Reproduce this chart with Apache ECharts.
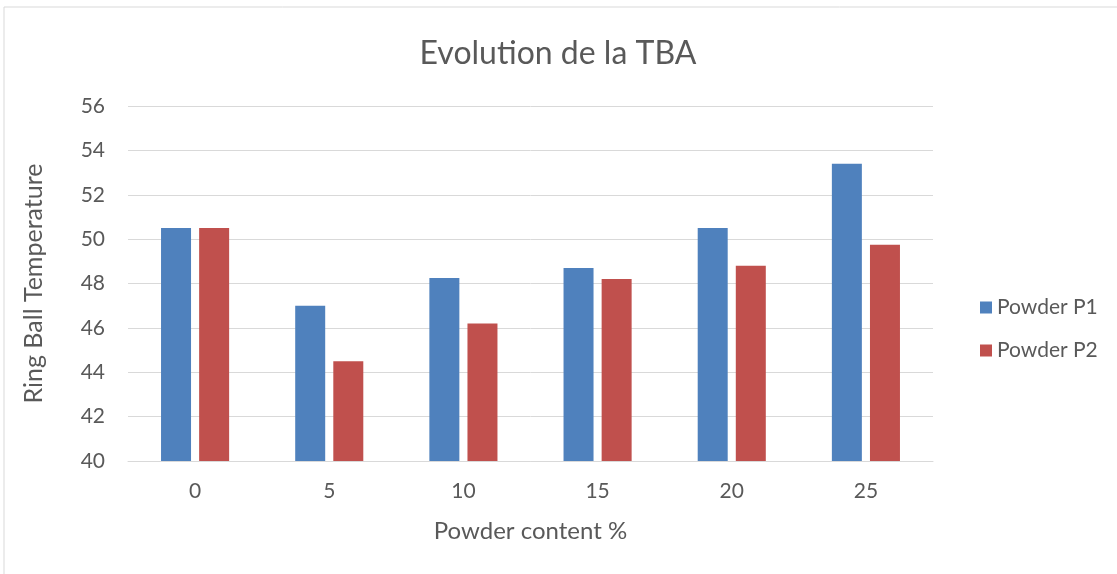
<!DOCTYPE html>
<html>
<head>
<meta charset="utf-8">
<script src="https://cdn.jsdelivr.net/npm/echarts@6/dist/echarts.min.js"></script>
<style>
  html, body { margin: 0; padding: 0; background: #fff; }
  #chart { width: 1117px; height: 574px; }
</style>
</head>
<body>
<div id="chart"></div>
<script>
var categories = ['0', '5', '10', '15', '20', '25'];
var powderP1 = [50.5, 47.0, 48.25, 48.7, 50.5, 53.4];
var powderP2 = [50.5, 44.5, 46.2, 48.2, 48.8, 49.75];
var yTicks = { min: 40, max: 56, interval: 2 };

var chart = echarts.init(document.getElementById('chart'));
var textColor = '#595959';
var fontFamily = 'Lato, "Open Sans", sans-serif';

chart.setOption({
  animation: false,
  textStyle: { fontFamily: fontFamily },
  graphic: [{
    type: 'rect',
    shape: { x: 4, y: 7, width: 1120, height: 570 },
    style: { fill: 'none', stroke: '#d9d9d9', lineWidth: 1 },
    silent: true
  }],
  title: {
    text: 'Evolution de la TBA',
    left: 553,
    top: 33,
    textAlign: 'center',
    textStyle: { color: textColor, fontSize: 32, fontWeight: 'normal', fontFamily: fontFamily }
  },
  legend: {
    orient: 'vertical',
    left: 975,
    top: 292,
    itemWidth: 12,
    itemHeight: 12,
    itemGap: 22,
    icon: 'rect',
    textStyle: { color: textColor, fontSize: 21, fontFamily: fontFamily },
    data: ['Powder P1', 'Powder P2']
  },
  grid: {
    left: 128,
    right: 1117 - 933,
    top: 106,
    bottom: 574 - 461,
    containLabel: false
  },
  xAxis: {
    type: 'category',
    data: categories,
    name: 'Powder content %',
    nameLocation: 'middle',
    nameGap: 58,
    nameTextStyle: { color: textColor, fontSize: 24, fontFamily: fontFamily },
    axisTick: { show: false },
    axisLine: { lineStyle: { color: '#d9d9d9', width: 1 } },
    axisLabel: { color: textColor, fontSize: 21, margin: 20, fontFamily: fontFamily }
  },
  yAxis: {
    type: 'value',
    min: yTicks.min,
    max: yTicks.max,
    interval: yTicks.interval,
    name: 'Ring Ball Temperature',
    nameLocation: 'middle',
    nameGap: 82,
    nameTextStyle: { color: textColor, fontSize: 25, fontFamily: fontFamily },
    axisLine: { show: false },
    axisTick: { show: false },
    axisLabel: { color: textColor, fontSize: 21, margin: 23, fontFamily: fontFamily },
    splitLine: { lineStyle: { color: '#d9d9d9', width: 1 } }
  },
  series: [
    {
      name: 'Powder P1',
      type: 'bar',
      data: powderP1,
      barWidth: 30,
      barGap: '27%',
      itemStyle: { color: '#4f81bd' }
    },
    {
      name: 'Powder P2',
      type: 'bar',
      data: powderP2,
      barWidth: 30,
      itemStyle: { color: '#c0504d' }
    }
  ]
});
</script>
</body>
</html>
